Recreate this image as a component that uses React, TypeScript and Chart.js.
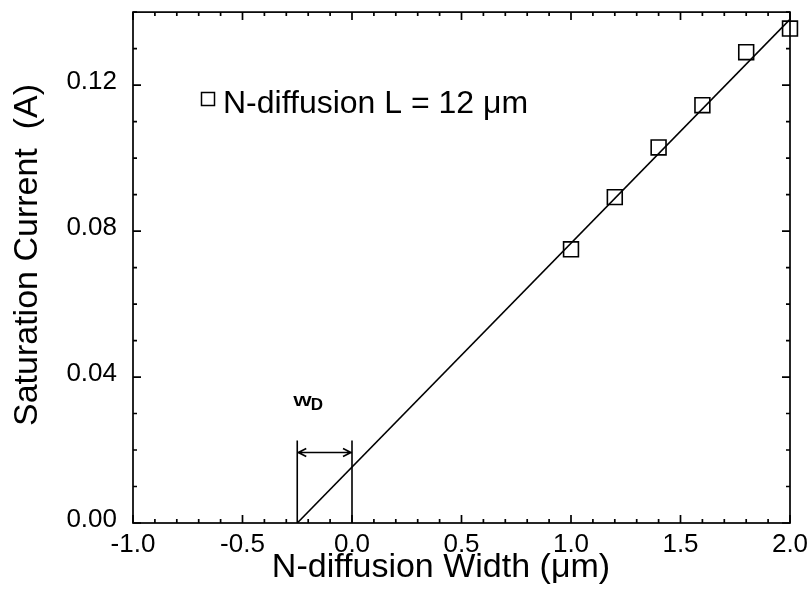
import React, { useEffect, useRef } from "react";
import { Chart, registerables } from "chart.js";

Chart.register(...registerables);

// ---- data ----
const widths = [1.0, 1.2, 1.4, 1.6, 1.8, 2.0];
const currents = [0.075, 0.0893, 0.1029, 0.1145, 0.129, 0.1355];
const fitX = [-0.25, 2.0];
const fitY = [0.0, 0.138];
const xTickValues = [-1.0, -0.5, 0.0, 0.5, 1.0, 1.5, 2.0];
const yTickValues = [0.0, 0.04, 0.08, 0.12];
const xRange = [-1.0, 2.0];
const yRange = [0.0, 0.14];
const xMinorStep = 0.1;
const yMinorStep = 0.01;
const wdStart = -0.25;
const wdEnd = 0.0;
const wdBarTop = 0.0226;
const wdArrowLevel = 0.0193;
const wdLabelLevel = 0.032;
const legendText = "N-diffusion L = 12 \u03bcm";
const xTitle = "N-diffusion Width (\u03bcm)";
const yTitle = "Saturation Current  (A)";

const FONT = "'Liberation Sans', Arial, Helvetica, sans-serif";

const decorPlugin = {
  id: "decor",
  afterDatasetsDraw(chart: any) {
    const { ctx, chartArea } = chart;
    const xs = chart.scales.x;
    const ys = chart.scales.y;
    const { left, right, top, bottom } = chartArea;
    ctx.save();
    ctx.strokeStyle = "#000";
    ctx.fillStyle = "#000";
    ctx.lineWidth = 1.7;
    // frame
    ctx.strokeRect(left, top, right - left, bottom - top);
    // x ticks (bottom + top, inward)
    const nx = Math.round((xRange[1] - xRange[0]) / xMinorStep);
    for (let i = 0; i <= nx; i++) {
      const v = xRange[0] + i * xMinorStep;
      const major = i % 5 === 0;
      const len = major ? 8 : 4;
      const px = xs.getPixelForValue(v);
      ctx.beginPath();
      ctx.moveTo(px, bottom);
      ctx.lineTo(px, bottom - len);
      ctx.moveTo(px, top);
      ctx.lineTo(px, top + len);
      ctx.stroke();
    }
    const ny = Math.round((yRange[1] - yRange[0]) / yMinorStep);
    for (let i = 0; i <= ny; i++) {
      const v = yRange[0] + i * yMinorStep;
      const major = i % 4 === 0;
      const len = major ? 8 : 4;
      const py = ys.getPixelForValue(v);
      ctx.beginPath();
      ctx.moveTo(left, py);
      ctx.lineTo(left + len, py);
      ctx.moveTo(right, py);
      ctx.lineTo(right - len, py);
      ctx.stroke();
    }
    // W_D annotation
    const xa = xs.getPixelForValue(wdStart);
    const xb = xs.getPixelForValue(wdEnd);
    const yTop = ys.getPixelForValue(wdBarTop);
    const yArr = ys.getPixelForValue(wdArrowLevel);
    const y0 = ys.getPixelForValue(0);
    ctx.lineWidth = 1.6;
    ctx.beginPath();
    ctx.moveTo(xa, y0);
    ctx.lineTo(xa, yTop);
    ctx.moveTo(xb, y0);
    ctx.lineTo(xb, yTop);
    ctx.moveTo(xa + 1, yArr);
    ctx.lineTo(xb - 1, yArr);
    // arrowheads
    ctx.moveTo(xa + 9, yArr - 4);
    ctx.lineTo(xa + 1, yArr);
    ctx.lineTo(xa + 9, yArr + 4);
    ctx.moveTo(xb - 9, yArr - 4);
    ctx.lineTo(xb - 1, yArr);
    ctx.lineTo(xb - 9, yArr + 4);
    ctx.stroke();
    // W_D label
    const yl = ys.getPixelForValue(wdLabelLevel);
    ctx.textAlign = "left";
    ctx.textBaseline = "alphabetic";
    ctx.save();
    ctx.translate(xa - 4, yl);
    ctx.scale(1.3, 1);
    ctx.font = `bold 15px ${FONT}`;
    ctx.fillText("W", 0, 0);
    const wW = ctx.measureText("W").width * 1.3;
    ctx.restore();
    ctx.font = `bold 17px ${FONT}`;
    ctx.fillText("D", xa - 5 + wW, yl + 4);
    // legend
    ctx.lineWidth = 1.5;
    ctx.strokeRect(201.5, 92.5, 13, 13);
    ctx.font = `32px ${FONT}`;
    ctx.fillText(legendText, 223, 113);
    // axis titles
    ctx.textAlign = "center";
    ctx.font = `34px ${FONT}`;
    ctx.fillText(xTitle, 441, 577);
    ctx.save();
    ctx.translate(37, 255);
    ctx.rotate(-Math.PI / 2);
    ctx.font = `34px ${FONT}`;
    ctx.fillText(yTitle, 0, 0);
    ctx.restore();
    ctx.restore();
  },
};

export default function App() {
  const ref = useRef<HTMLCanvasElement | null>(null);
  useEffect(() => {
    if (!ref.current) return;
    const chart = new Chart(ref.current, {
      type: "scatter",
      data: {
        datasets: [
          {
            label: "N-diffusion L = 12 \u03bcm",
            data: widths.map((x, i) => ({ x, y: currents[i] })),
            pointStyle: "rect",
            pointRadius: 10.5,
            pointHoverRadius: 10.5,
            borderColor: "#000",
            backgroundColor: "rgba(0,0,0,0)",
            borderWidth: 1.6,
            showLine: false,
            clip: false,
          } as any,
          {
            label: "fit",
            data: fitX.map((x, i) => ({ x, y: fitY[i] })),
            showLine: true,
            pointRadius: 0,
            borderColor: "#000",
            borderWidth: 1.6,
          } as any,
        ],
      },
      options: {
        animation: false,
        responsive: false,
        layout: { padding: { top: 12, right: 18, left: 0, bottom: 0 } },
        plugins: { legend: { display: false }, tooltip: { enabled: false } },
        scales: {
          x: {
            type: "linear",
            min: xRange[0],
            max: xRange[1],
            grid: { display: false, drawTicks: false },
            border: { display: false },
            afterBuildTicks: (s: any) => {
              s.ticks = xTickValues.map((v) => ({ value: v }));
            },
            afterFit: (s: any) => {
              s.height = 77;
              s.paddingLeft = 0;
              s.paddingRight = 0;
            },
            ticks: {
              padding: 6,
              color: "#000",
              font: { family: FONT, size: 26 },
              maxRotation: 0,
              autoSkip: false,
              callback: (v: any) => Number(v).toFixed(1),
            },
          },
          y: {
            type: "linear",
            min: yRange[0],
            max: yRange[1],
            grid: { display: false, drawTicks: false },
            border: { display: false },
            afterBuildTicks: (s: any) => {
              s.ticks = yTickValues.map((v) => ({ value: v }));
            },
            afterFit: (s: any) => {
              s.width = 133;
              s.paddingTop = 0;
              s.paddingBottom = 0;
            },
            ticks: {
              padding: 16,
              labelOffset: -3,
              color: "#000",
              font: { family: FONT, size: 26 },
              autoSkip: false,
              callback: (v: any) => Number(v).toFixed(2),
            },
          },
        },
      },
      plugins: [decorPlugin],
    });
    return () => chart.destroy();
  }, []);
  return (
    <div style={{ position: "fixed", left: 0, top: 0, width: 808, height: 600, background: "#fff" }}>
      <canvas ref={ref} width={808} height={600} style={{ display: "block" }} />
    </div>
  );
}
